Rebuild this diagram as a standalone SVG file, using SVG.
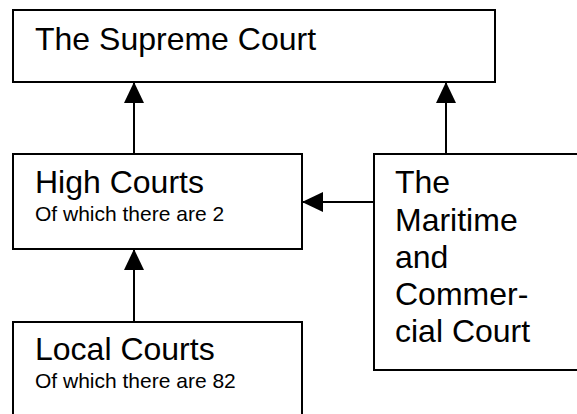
<svg xmlns="http://www.w3.org/2000/svg" width="577" height="414" viewBox="0 0 577 414">
<style>
.box{fill:#fff;stroke:#000;stroke-width:2}
.t{font-family:"Liberation Sans",Arial,sans-serif;fill:#000}
.big{font-size:32px}
.small{font-size:21px}
.c{stroke:#000;stroke-width:2;fill:none}
</style>
<defs>
<marker id="ah" markerWidth="21" markerHeight="20" refX="21" refY="10" orient="auto" markerUnits="userSpaceOnUse">
<path d="M0,0 L21,10 L0,20 Z" fill="#000"/>
</marker>
</defs>
<rect width="577" height="414" fill="#fff"/>
<g id="connectors">
<line class="c" x1="134" y1="154" x2="134" y2="82" marker-end="url(#ah)"/>
<line class="c" x1="446" y1="154" x2="446" y2="82" marker-end="url(#ah)"/>
<line class="c" x1="134" y1="322" x2="134" y2="249" marker-end="url(#ah)"/>
<line class="c" x1="374" y1="202" x2="302" y2="202" marker-end="url(#ah)"/>
</g>
<g id="supreme">
<rect class="box" x="13" y="10" width="482" height="72"/>
<text class="t big" x="35" y="50">The Supreme Court</text>
</g>
<g id="high">
<rect class="box" x="13" y="154" width="289" height="95"/>
<text class="t big" x="35" y="193">High Courts</text>
<text class="t small" x="35" y="221">Of which there are 2</text>
</g>
<g id="maritime">
<rect class="box" x="374" y="154" width="220" height="216"/>
<text class="t big" x="395" y="193">The</text>
<text class="t big" x="395" y="231">Maritime</text>
<text class="t big" x="395" y="268">and</text>
<text class="t big" x="395" y="305">Commer-</text>
<text class="t big" x="395" y="342">cial Court</text>
</g>
<g id="local">
<rect class="box" x="13" y="322" width="289" height="110"/>
<text class="t big" x="35" y="360">Local Courts</text>
<text class="t small" x="35" y="388">Of which there are 82</text>
</g>
</svg>
